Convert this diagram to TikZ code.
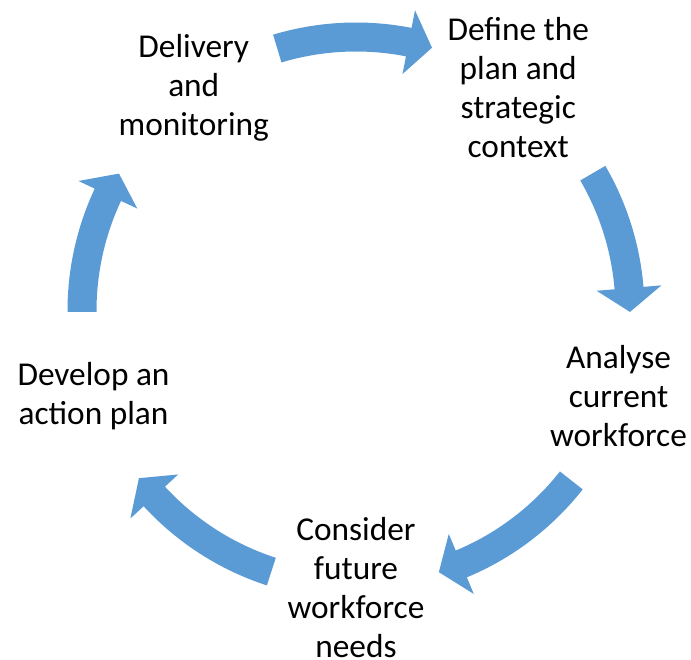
\documentclass[tikz,border=0pt]{standalone}
\usepackage{fontspec}
\setmainfont{Carlito}
\usepackage{tikz}
\definecolor{cycleblue}{HTML}{5B9BD5}
\tikzset{
  stage/.style={align=center, inner sep=0pt, font=\fontsize{25}{29.25}\selectfont},
  cyclearrow/.style={fill=cycleblue, draw=none}
}

\begin{document}
\begin{tikzpicture}[x=0.75pt, y=0.75pt]
        \useasboundingbox (-356,-348) rectangle (335,311);

        \node[stage] at (126:276)  (deliver) {Delivery\\and\\monitoring};
        \node[stage] at (54:276)   (define)  {Define the\\plan and\\strategic\\context};
        \node[stage] at (-18:276)  (analyse) {Analyse\\current\\workforce};
        \node[stage] at (-90:277)  (future)  {Consider\\future\\workforce\\needs};
        \node[stage] at (198:276)  (action)  {Develop an\\action plan};

        \foreach \s/\t in {106.7/73.9, 30.2/-0.2, -38.2/-72.4, -108/-142.4, 180.2/149.9} {
            \pgfmathsetmacro{\b}{\t+5}
            \fill[cyclearrow] (\s:288.5) arc (\s:\b:288.5) -- (\b:306.5) -- (\t:274)
                -- (\b:241.5) -- (\b:259.5) arc (\b:\s:259.5) -- cycle;
        }
    \end{tikzpicture}
\end{document}
